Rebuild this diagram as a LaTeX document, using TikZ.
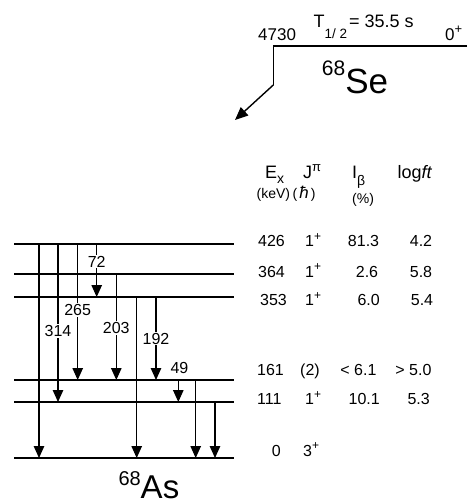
\documentclass[tikz,border=0pt]{standalone}
\usepackage{fontspec}
\setmainfont{Liberation Sans}
\usetikzlibrary{arrows.meta}
\newcommand\myplus{\raisebox{6.5pt}{\fontsize{12}{12}\selectfont +}}
\tikzset{
  lvl/.style={line width=1.4pt},
  trans/.style={line width=1.2pt, -{Triangle[width=10.5pt,length=12pt]}},
  glab/.style={font=\fontsize{16}{17}\selectfont, fill=white, inner sep=1pt},
  tw/.style={font=\fontsize{16}{17}\selectfont, inner sep=0pt, anchor=base west},
  te/.style={font=\fontsize{16}{17}\selectfont, inner sep=0pt, anchor=base east},
  hd/.style={font=\fontsize{18}{19}\selectfont, inner sep=0pt, anchor=base west},
  un/.style={font=\fontsize{14}{15}\selectfont, inner sep=0pt, anchor=base west},
}
\begin{document}
\begin{tikzpicture}[x=1pt,y=-1pt]
\useasboundingbox (0,0) rectangle (467,504);
% ---- parent 68Se ----
\coordinate (se0) at (273.3,46);
\coordinate (se1) at (467,46);
\coordinate (se2) at (273.3,85);
\coordinate (se3) at (235,120);
\draw[lvl] (se1) -- (se0) -- (se2);
\draw[line width=1.4pt, -{Triangle[width=11pt,length=13pt]}] (se2) -- (se3);
\node[tw, font=\fontsize{17}{18}\selectfont] (e4730) at (258,40) {4730};
\node[tw, font=\fontsize{18}{19}\selectfont] (thalf) at (313.5,27.7)
  {T\raisebox{-10.6pt}{\fontsize{13.5}{14}\selectfont 1/ 2}\hspace{2pt}= 35.5 s};
\node[tw, font=\fontsize{17}{18}\selectfont] (jse) at (445,40) {0\raisebox{6.5pt}{\fontsize{13}{13}\selectfont +}};
\node[inner sep=0pt, anchor=base west] (se) at (321.7,93)
  {\raisebox{18pt}{\fontsize{21}{21}\selectfont 68}{\fontsize{35}{35}\selectfont Se}};
% ---- levels of 68As ----
\foreach \n/\y in {426/244, 364/274, 353/297, 161/380, 111/402, 0/458}{
  \coordinate (L\n a) at (14,\y);
  \coordinate (L\n b) at (234.3,\y);
  \draw[lvl] (L\n a) -- (L\n b);
}
% transition columns
\coordinate (c1) at (39,0);
\coordinate (c2) at (58,0);
\coordinate (c3) at (77.7,0);
\coordinate (c4) at (96.7,0);
\coordinate (c5) at (116.3,0);
\coordinate (c6) at (136.7,0);
\coordinate (c7) at (156,0);
\coordinate (c8) at (178.3,0);
\coordinate (c9) at (195.7,0);
\coordinate (c10) at (215,0);
\draw[trans] (c1 |- L426a) -- (c1 |- L0a);
\draw[trans] (c2 |- L426a) -- (c2 |- L111a) node[glab, pos=0.551] (g314) {314};
\draw[trans] (c3 |- L426a) -- (c3 |- L161a) node[glab, pos=0.485] (g265) {265};
\draw[trans] (c4 |- L426a) -- (c4 |- L353a) node[glab, pos=0.33] (g72) {72};
\draw[trans] (c5 |- L364a) -- (c5 |- L161a) node[glab, pos=0.51] (g203) {203};
\draw[trans] (c6 |- L353a) -- (c6 |- L0a);
\draw[trans] (c7 |- L353a) -- (c7 |- L161a) node[glab, pos=0.5] (g192) {192};
\draw[trans] (c8 |- L161a) -- (c8 |- L111a);
\node[glab] (g49) at (179.5,368) {49};
\draw[trans] (c9 |- L161a) -- (c9 |- L0a);
\draw[trans] (c10 |- L111a) -- (c10 |- L0a);
\node[inner sep=0pt, anchor=base west] (as) at (118.3,498)
  {\raisebox{13pt}{\fontsize{20}{20}\selectfont 68}{\fontsize{33}{33}\selectfont As}};
% ---- table ----
\node[hd] (hEx) at (265,178) {E\raisebox{-5pt}{\fontsize{14}{14}\selectfont x}};
\node[hd] (hJ) at (303,178) {J\raisebox{7pt}{\fontsize{13}{13}\selectfont π}};
\node[hd] (hI) at (352,178) {I\raisebox{-7pt}{\fontsize{14}{14}\selectfont β}};
\node[hd] (hL) at (397.5,178) {log\textit{ft}};
\node[un] (uEx) at (256.5,198) {(keV)};
\node[un] (uJ) at (292.5,198) {(\hspace{2pt}{\fontsize{17}{17}\selectfont\itshape ħ}\hspace{2pt})};
\node[un] (uI) at (352,203) {(\%)};
% rows
\node[tw] (r1a) at (258,246.7) {426};
\node[tw] (r1b) at (305,246.7) {1\myplus};
\node[te] (r1c) at (379.3,246.7) {81.3};
\node[te] (r1d) at (432.3,246.7) {4.2};
\node[tw] (r2a) at (258,277.3) {364};
\node[tw] (r2b) at (305,277.3) {1\myplus};
\node[te] (r2c) at (378.3,277.3) {2.6};
\node[te] (r2d) at (432.3,277.3) {5.8};
\node[tw] (r3a) at (260,305.7) {353};
\node[tw] (r3b) at (305,305.7) {1\myplus};
\node[te] (r3c) at (380,305.7) {6.0};
\node[te] (r3d) at (433.3,305.7) {5.4};
\node[tw] (r4a) at (257,375.7) {161};
\node[tw] (r4b) at (300,375.7) {(2)};
\node[te] (r4c) at (376.7,375.7) {< 6.1};
\node[te] (r4d) at (431.7,375.7) {> 5.0};
\node[tw] (r5a) at (257,404.7) {111};
\node[tw] (r5b) at (305,404.7) {1\myplus};
\node[te] (r5c) at (380,404.7) {10.1};
\node[te] (r5d) at (430,404.7) {5.3};
\node[tw] (r6a) at (271.7,456.3) {0};
\node[tw] (r6b) at (303,456.3) {3\myplus};
\end{tikzpicture}
\end{document}
